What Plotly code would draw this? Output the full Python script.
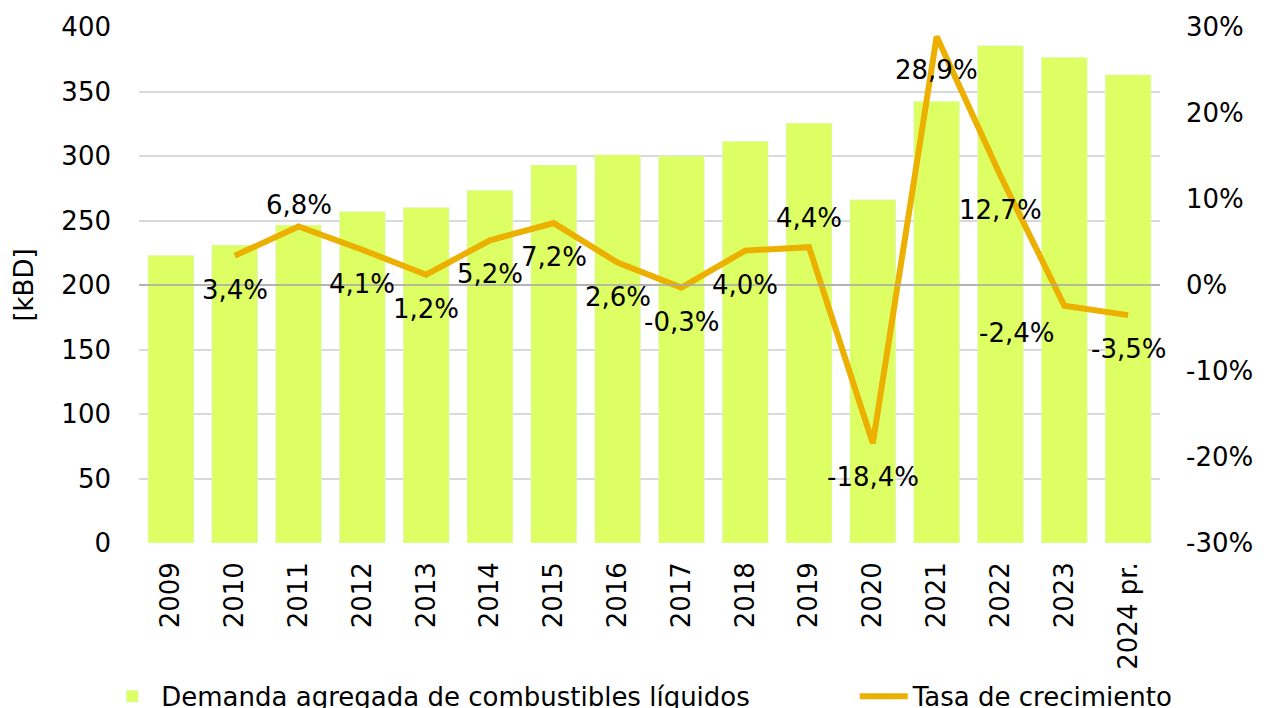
import plotly.graph_objects as go

years = ["2009", "2010", "2011", "2012", "2013", "2014", "2015", "2016",
         "2017", "2018", "2019", "2020", "2021", "2022", "2023", "2024 pr."]
demand_kbd = [223, 231, 246.5, 257, 260, 273.5, 293, 301,
              300, 311.5, 325.5, 266, 342.5, 385.5, 376.5, 363]
growth_pct = [None, 3.4, 6.8, 4.1, 1.2, 5.2, 7.2, 2.6,
              -0.3, 4.0, 4.4, -18.4, 28.9, 12.7, -2.4, -3.5]

bar_name = "Demanda agregada de combustibles líquidos"
line_name = "Tasa de crecimiento"

left_ticks = [0, 50, 100, 150, 200, 250, 300, 350, 400]
right_ticks = [-30, -20, -10, 0, 10, 20, 30]

FONT = "Verdana, DejaVu Sans, sans-serif"
FS = 26
BAR_COLOR = "#DDFF63"
LINE_COLOR = "#EBB000"

# label offsets (pixels) for each growth label: (xshift, yshift)
label_offsets = {
    "2011": (0, 22), "2019": (0, 29), "2023": (-48, -27),
}
default_offset = (0, -34)

fig = go.Figure()
fig.add_trace(go.Bar(
    x=years, y=demand_kbd, name=bar_name, marker_color=BAR_COLOR,
    yaxis="y", hoverinfo="skip", legend="legend",
))
fig.add_trace(go.Scatter(
    x=years, y=growth_pct, name=line_name, mode="lines",
    line=dict(color=LINE_COLOR, width=6), yaxis="y2", connectgaps=False,
    legend="legend2",
))

annotations = []
for i, (yr, g) in enumerate(zip(years, growth_pct)):
    if g is None:
        continue
    xs, ys = label_offsets.get(yr, default_offset)
    annotations.append(dict(
        x=i, y=g, xref="x", yref="y2",
        text=f"{g:.1f}%".replace(".", ","), showarrow=False,
        xshift=xs, yshift=ys, font=dict(family=FONT, size=FS, color="#000000"),
        xanchor="center", yanchor="middle",
    ))

legend_common = dict(
    orientation="h", yanchor="middle", y=-0.297,
    font=dict(family=FONT, size=FS, color="#000000"),
    bgcolor="rgba(0,0,0,0)", itemwidth=48,
)

fig.update_layout(
    width=1270, height=708,
    margin=dict(l=131, r=118, t=19, b=173, autoexpand=False),
    paper_bgcolor="white", plot_bgcolor="white",
    font=dict(family=FONT, size=FS, color="#000000"),
    bargap=0.28,
    showlegend=True,
    legend=dict(x=-0.035, xanchor="left", **legend_common),
    legend2=dict(x=0.701, xanchor="left", **legend_common),
    xaxis=dict(
        type="category", tickangle=-90, showgrid=False, showline=False,
        ticks="", ticklabelstandoff=13,
        tickfont=dict(family=FONT, size=FS, color="#000000"),
        range=[-0.5, len(years) - 0.5],
    ),
    yaxis=dict(
        range=[0, 400], tickvals=left_ticks, showgrid=True,
        gridcolor="#D9D9D9", gridwidth=1.5, zeroline=False, showline=False,
        ticks="", ticklabelstandoff=27,
        title=dict(text="[kBD]", font=dict(family=FONT, size=FS), standoff=20),
        tickfont=dict(family=FONT, size=FS, color="#000000"),
    ),
    yaxis2=dict(
        range=[-30, 30], overlaying="y", side="right",
        tickvals=right_ticks, ticktext=[f"{v}%" for v in right_ticks],
        showgrid=False, zeroline=False, showline=False, ticks="",
        ticklabelstandoff=25,
        tickfont=dict(family=FONT, size=FS, color="#000000"),
    ),
    annotations=annotations,
    shapes=[dict(
        type="line", xref="paper", x0=0, x1=1, yref="y2", y0=0, y1=0,
        line=dict(color="#A6A6A6", width=1.5), layer="above",
    )],
)

fig.write_html("out.html")
